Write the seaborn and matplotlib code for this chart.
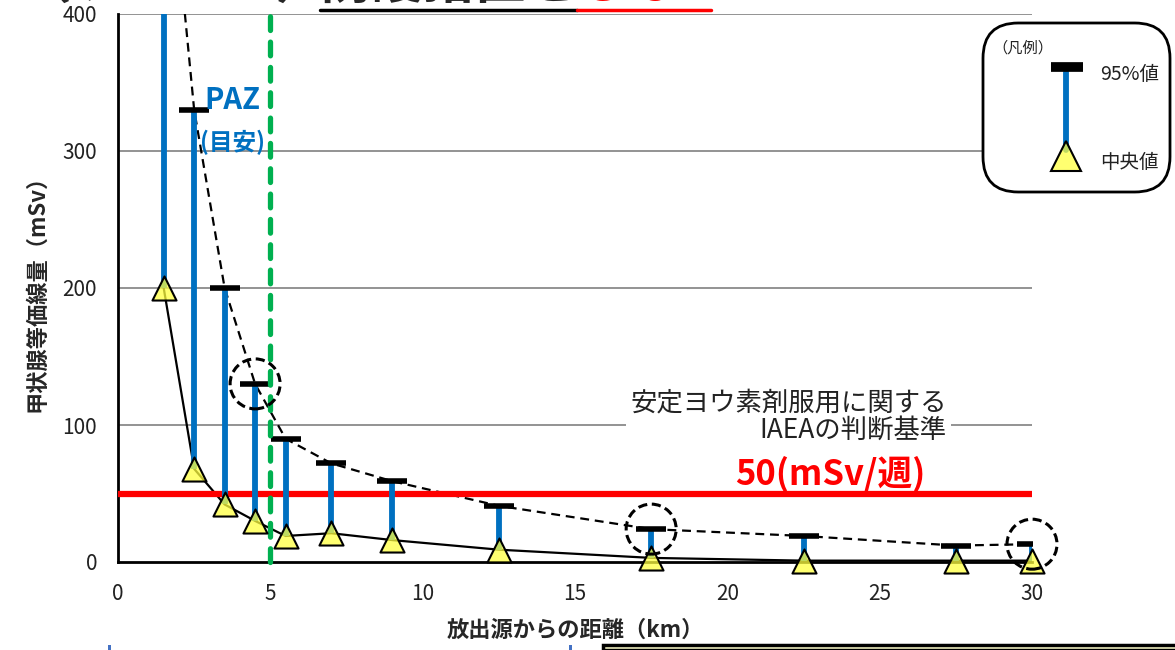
import matplotlib
matplotlib.use('Agg')
import matplotlib.pyplot as plt
from matplotlib.patches import FancyBboxPatch, Ellipse, Rectangle
from matplotlib.lines import Line2D
import pandas as pd
import seaborn as sns

# data
distance = [1.5, 2.5, 3.5, 4.5, 5.5, 7, 9, 12.5, 17.5, 22.5, 27.5, 30]
dose_95 = [560, 330, 200, 130, 90, 72, 59, 41, 24, 19, 12, 13]
dose_median = [200, 68, 42, 30, 19, 21, 16, 9, 3, 1, 1, 1]
circled = [4.5, 17.5, 30]
x_ticks = [0, 5, 10, 15, 20, 25, 30]
y_ticks = [0, 100, 200, 300, 400]
iaea_limit = 50
paz_km = 5

df = pd.DataFrame({'distance': distance, 'p95': dose_95, 'median': dose_median})

sns.set_theme(style='white')
plt.rcParams['font.family'] = ['Noto Sans CJK JP', 'DejaVu Sans']

W, H = 1175, 650
fig = plt.figure(figsize=(W / 100, H / 100), dpi=100)
ax = fig.add_axes([118 / W, 88 / H, (1032 - 118) / W, (562 - 14) / H])

def fx(px):
    return px / W

def fy(py):
    return 1 - py / H

# grid lines
for yv in y_ticks[1:]:
    ax.axhline(yv, color='#808080', lw=1.2, zorder=0)

# 95% dashed curve and median solid line
sns.lineplot(data=df, x='distance', y='p95', ax=ax, color='black', lw=1.6,
             linestyle=(0, (4, 2.6)), zorder=3)
sns.lineplot(data=df, x='distance', y='median', ax=ax, color='black', lw=1.6,
             zorder=3)

# red IAEA line
ax.hlines(iaea_limit, 0, 30, color='#FF0000', lw=4.5, zorder=4)

# blue bars from median to 95%
ax.vlines(df['distance'], df['median'], df['p95'], color='#0070C0', lw=4.2, zorder=5)
# 95% caps
ax.scatter(df['distance'], df['p95'], marker='_', s=22 ** 2, linewidths=4,
           color='black', zorder=6, clip_on=True)

# green PAZ line
ax.plot([paz_km, paz_km], [0, 400], color='#00B050', lw=3.8,
        dashes=(2.6, 2.2), dash_capstyle='round', zorder=6, clip_on=False)

# median triangles
sns.scatterplot(data=df, x='distance', y='median', ax=ax, marker='^', s=300,
                facecolor=(1, 1, 0.25, 0.75), edgecolor='black', linewidth=1.5,
                zorder=7, clip_on=False)

# dashed circles around some 95% values
for cx in circled:
    cy = df.loc[df['distance'] == cx, 'p95'].iloc[0]
    ax.add_patch(Ellipse((cx, cy), 50 / 30.47, 50 / 1.37, fill=False,
                         edgecolor='black', lw=2.2, linestyle=(0, (3, 1.5)),
                         zorder=8, clip_on=False))

ax.set_xlim(0, 30)
ax.set_ylim(0, 400)
ax.set_xticks(x_ticks)
ax.set_yticks(y_ticks)
ax.tick_params(axis='both', direction='out', length=8, width=2, color='black',
               labelsize=15, labelcolor='#222222', pad=7)
for s in ['top', 'right']:
    ax.spines[s].set_visible(False)
for s in ['left', 'bottom']:
    ax.spines[s].set_color('black')
    ax.spines[s].set_linewidth(2)
    ax.spines[s].set_zorder(2)

ax.set_xlabel('放出源からの距離（km）', fontsize=16, fontweight='bold', labelpad=10)
ax.set_ylabel('甲状腺等価線量（mSv）', fontsize=16, fontweight='bold', labelpad=10)

# text labels
ax.text(3.75, 337, 'PAZ', color='#0070C0', fontsize=21, fontweight='bold',
        ha='center', va='center', zorder=9)
ax.text(3.75, 306, '(目安)', color='#0070C0', fontsize=17, fontweight='bold',
        ha='center', va='center', zorder=9)
ax.text(27.2, 106, '安定ヨウ素剤服用に関する\nIAEAの判断基準', fontsize=19,
        ha='right', va='center', multialignment='right', color='#222222',
        linespacing=1.0, zorder=9,
        bbox=dict(facecolor='white', edgecolor='none', pad=3))
ax.text(26.5, 64, '50(mSv/週)', color='#FF0000', fontsize=25, fontweight='bold',
        ha='right', va='center', zorder=9)

# legend box
fig.patches.append(FancyBboxPatch((fx(983), fy(192)), fx(1170) - fx(983), fy(23) - fy(192),
                                  boxstyle='round,pad=0,rounding_size=0.03',
                                  transform=fig.transFigure, facecolor='white',
                                  edgecolor='black', lw=2, mutation_aspect=W / H))
fig.text(fx(992), fy(48), '（凡例）', fontsize=11, va='center', ha='left', color='#222222')
fig.lines.append(Line2D([fx(1066), fx(1066)], [fy(72), fy(150)], color='#0070C0', lw=4.2,
                        transform=fig.transFigure))
fig.lines.append(Line2D([fx(1051), fx(1083)], [fy(67), fy(67)], color='black', lw=7,
                        solid_capstyle='butt', transform=fig.transFigure))
fig.lines.append(Line2D([fx(1066)], [fy(156)], marker='^', markersize=22, linestyle='none',
                        markerfacecolor=(1, 1, 0.25, 0.75), markeredgecolor='black',
                        markeredgewidth=1.5, transform=fig.transFigure))
fig.text(fx(1100), fy(74), '95%値', fontsize=14, va='center', ha='left', color='#222222')
fig.text(fx(1100), fy(163), '中央値', fontsize=14, va='center', ha='left', color='#222222')

# clipped slide title at top
fig.text(fx(20), fy(9), '（ケース２）', fontsize=37, fontweight='bold', va='bottom', ha='left')
fig.text(fx(320), fy(9), '防護措置を', fontsize=37, fontweight='bold', va='bottom', ha='left')
fig.text(fx(577), fy(9), 'しない', fontsize=37, fontweight='bold', va='bottom', ha='left',
         color='#FF0000')
fig.lines.append(Line2D([fx(320), fx(577)], [fy(10), fy(10)], color='black', lw=2.5,
                        transform=fig.transFigure))
fig.lines.append(Line2D([fx(577), fx(711)], [fy(10), fy(10)], color='#FF0000', lw=2.5,
                        transform=fig.transFigure))

# partial shapes at bottom edge
fig.patches.append(Rectangle((fx(603), 0), fx(1180) - fx(603), fy(645), transform=fig.transFigure,
                             facecolor='#FFFFCC', edgecolor='black', lw=2.5))
fig.patches.append(Rectangle((fx(108), 0), 3 / W, 5 / H, transform=fig.transFigure,
                             facecolor='#4472C4', edgecolor='none'))
fig.patches.append(Rectangle((fx(569), 0), 3 / W, 5 / H, transform=fig.transFigure,
                             facecolor='#4472C4', edgecolor='none'))

fig.savefig('out.png', dpi=100)
